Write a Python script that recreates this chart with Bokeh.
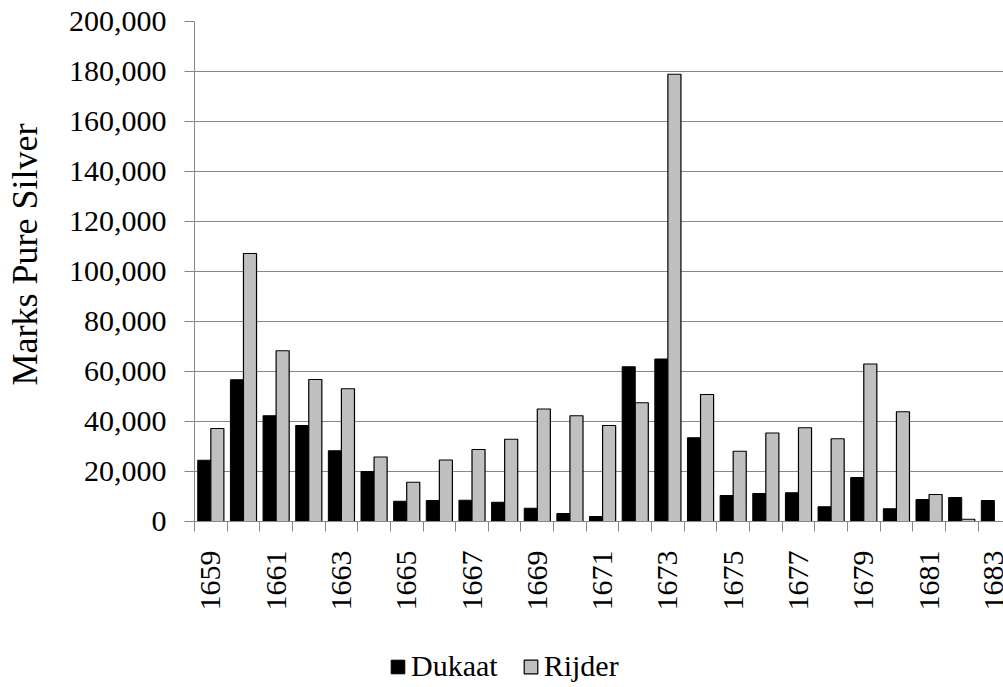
from bokeh.plotting import figure
from bokeh.layouts import column
from bokeh.models import (ColumnDataSource, FixedTicker, NumeralTickFormatter, Legend,
                          LegendItem, Title, Range1d)
from bokeh.transform import dodge
from bokeh.embed import file_html
from bokeh.resources import INLINE

# ---- data ----
years = list(range(1659, 1684))
dukaat = [24500, 56700, 42300, 38400, 28300, 20000, 8100, 8400, 8500, 7700, 5300, 3200, 2000,
          61900, 65000, 33500, 10400, 11200, 11500, 5900, 17600, 5100, 8800, 9600, 8400]
rijder = [37200, 107200, 68300, 56800, 53100, 25800, 15700, 24600, 28800, 32900, 45000, 42300,
          38400, 47500, 178900, 50800, 28100, 35400, 37500, 33100, 63000, 43900, 10800, 900, 0]
y_ticks = list(range(0, 200001, 20000))
series_names = ["Dukaat", "Rijder"]

FONT = "Liberation Serif"
GRID = "#878787"
STYLES = [dict(fill_color="black", line_color="black", line_width=1),
          dict(fill_color="#C0C0C0", line_color="black", line_width=1.2)]

pos = [i + 0.5 for i in range(len(years))]
src = ColumnDataSource(dict(x=pos, year=years, dukaat=dukaat, rijder=rijder))


def add_bars(fig):
    a = fig.vbar(x=dodge("x", -0.2, range=fig.x_range), top="dukaat", width=0.4,
                 source=src, **STYLES[0])
    b = fig.vbar(x=dodge("x", 0.2, range=fig.x_range), top="rijder", width=0.4,
                 source=src, **STYLES[1])
    return a, b


p = figure(width=1003, height=645, x_range=Range1d(0, 24.78), y_range=Range1d(0, 200000),
           output_backend="svg", toolbar_location=None,
           min_border_left=193, min_border_right=0, min_border_top=21, min_border_bottom=124)
p.outline_line_color = None
add_bars(p)

# x axis: ticks at category boundaries, labels every other category
label_pos = pos[::2]
p.xaxis.ticker = FixedTicker(ticks=label_pos, minor_ticks=list(range(len(years) + 1)))
p.xaxis.major_label_overrides = {x: str(y) for x, y in zip(pos, years)}
p.xaxis.major_tick_out = 0
p.xaxis.major_tick_in = 0
p.xaxis.minor_tick_out = 10
p.xaxis.minor_tick_in = 0
p.xaxis.minor_tick_line_color = GRID
p.xaxis.axis_line_color = GRID
p.xaxis.major_label_orientation = 1.5708
p.xaxis.major_label_standoff = 19
p.xaxis.major_label_text_font = FONT
p.xaxis.major_label_text_font_size = "30px"
p.xaxis.major_label_text_color = "black"
p.xgrid.visible = False

# y axis
p.yaxis.ticker = FixedTicker(ticks=y_ticks)
p.yaxis.formatter = NumeralTickFormatter(format="0,0")
p.yaxis.major_tick_out = 10
p.yaxis.major_tick_in = 0
p.yaxis.minor_tick_out = 0
p.yaxis.minor_tick_in = 0
p.yaxis.major_tick_line_color = GRID
p.yaxis.axis_line_color = GRID
p.yaxis.major_label_standoff = 18
p.yaxis.major_label_text_font = FONT
p.yaxis.major_label_text_font_size = "30px"
p.yaxis.major_label_text_color = "black"
# blank spacer label widens the axis panel so the title sits further left
p.yaxis.axis_label = " "
p.yaxis.axis_label_text_font_size = "2px"
p.yaxis.axis_label_standoff = 9
p.ygrid.grid_line_color = GRID
p.ygrid.grid_line_width = 1.2

ytitle = Title(text="Marks Pure Silver", align="left", offset=136, standoff=9,
               vertical_align="top",
               text_font=FONT, text_font_size="36px", text_font_style="normal",
               text_color="black")
p.add_layout(ytitle, "left")

# legend strip below the chart (its bar renderers are hidden; only the legend shows)
lg = figure(width=1003, height=42, x_range=p.x_range, y_range=Range1d(-2, -1),
            output_backend="svg", toolbar_location=None,
            min_border_left=193, min_border_right=0, min_border_top=0, min_border_bottom=0)
lg.axis.visible = False
lg.grid.visible = False
lg.outline_line_color = None
la, lb = add_bars(lg)
la.visible = False
lb.visible = False
legend = Legend(items=[LegendItem(label=series_names[0], renderers=[la]),
                       LegendItem(label=series_names[1], renderers=[lb])],
                orientation="horizontal", location="left",
                border_line_color=None, background_fill_alpha=0,
                label_text_font=FONT, label_text_font_size="30px", label_text_color="black",
                glyph_width=17, glyph_height=17, label_standoff=5, spacing=24,
                padding=0, margin=195)
lg.add_layout(legend, "center")

layout = column(p, lg, spacing=0)
open("out.html", "w").write(file_html(layout, INLINE))
